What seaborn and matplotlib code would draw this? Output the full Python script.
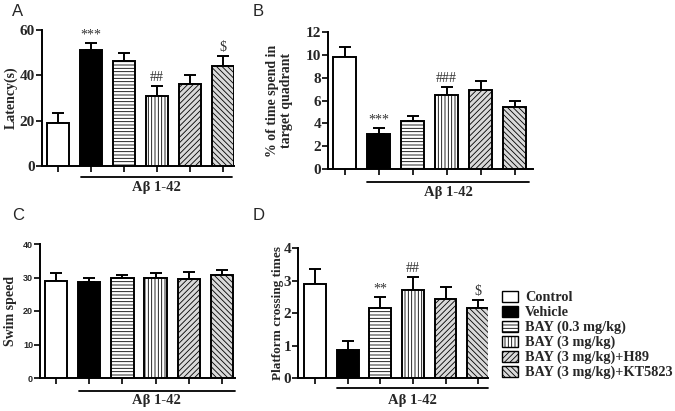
import numpy as np
import pandas as pd
import matplotlib
matplotlib.use("Agg")
import matplotlib.pyplot as plt
import matplotlib.transforms as mtransforms
from matplotlib.patches import Patch
import seaborn as sns

groups = ["Control", "Vehicle", "BAY (0.3 mg/kg)", "BAY (3 mg/kg)",
          "BAY (3 mg/kg)+H89", "BAY (3 mg/kg)+KT5823"]

latency = [18.8, 51.2, 46.3, 31.0, 36.0, 44.3]
latency_err = [4.5, 3.0, 3.4, 4.2, 4.2, 4.3]
latency_marks = ["", "***", "", "##", "", r"\$"]

time_quad = [9.77, 3.07, 4.24, 6.5, 6.93, 5.4]
time_quad_err = [0.95, 0.5, 0.36, 0.7, 0.77, 0.6]
time_quad_marks = ["", "***", "", "###", "", ""]

swim = [29.0, 28.8, 29.8, 29.8, 29.6, 30.6]
swim_err = [2.3, 1.2, 1.0, 1.5, 1.9, 1.5]
swim_marks = ["", "", "", "", "", ""]

crossing = [2.88, 0.87, 2.15, 2.71, 2.44, 2.15]
crossing_err = [0.48, 0.26, 0.34, 0.41, 0.36, 0.26]
crossing_marks = ["", "", "**", "##", "", r"\$"]

colors = ["white", "black", "white", "white", "#d9d9d9", "#d9d9d9"]
hatches = [None, None, "-----", "|||||", "//////", "\\\\\\\\\\\\"]

sns.set_style("white")
plt.rcParams["hatch.linewidth"] = 0.6
SERIF = ["Liberation Serif", "DejaVu Serif"]
SANS = ["Liberation Sans", "DejaVu Sans"]

fig = plt.figure(figsize=(6.75, 4.11), dpi=100)
W, H = 675, 411


def add_ax(l, r, t, b):
    return fig.add_axes([l / W, 1 - b / H, (r - l) / W, (b - t) / H])


def panel(ax, vals, errs, marks, ylim, yticks, ylabel, xlim, labx,
          line_x, line_y, text_y, tick_font=None, ylab_size=10):
    df = pd.DataFrame({"group": groups, "value": vals})
    sns.barplot(data=df, x="group", y="value", order=groups, hue="group",
                palette=colors, legend=False, errorbar=None, width=0.67,
                ax=ax, zorder=3)
    for p, c, h in zip(ax.patches, colors, hatches):
        p.set_facecolor(c)
        p.set_edgecolor("black")
        p.set_linewidth(1.4)
        if h:
            p.set_hatch(h)
    x = np.arange(len(vals))
    ax.errorbar(x, vals, yerr=[np.zeros(len(vals)), errs], fmt="none",
                ecolor="black", elinewidth=1.4, capsize=4, capthick=1.4,
                zorder=2)
    span = ylim[1] - ylim[0]
    for xi, v, e, m in zip(x, vals, errs, marks):
        if m:
            ax.text(xi, v + e + span * 0.015, m, ha="center", va="bottom",
                    fontsize=10, family=SERIF, color="#333333")
    ax.set_ylim(*ylim)
    ax.set_xlim(*xlim)
    ax.set_yticks(yticks)
    ax.set_xticks(x)
    ax.set_xticklabels([])
    ax.set_xlabel("")
    ax.set_ylabel(ylabel, fontsize=ylab_size, fontweight="bold", family=SERIF,
                  linespacing=1.1)
    ax.yaxis.label.set_va("center")
    ax.yaxis.set_label_coords(labx, 0.5)
    for s in ["top", "right"]:
        ax.spines[s].set_visible(False)
    for s in ["left", "bottom"]:
        ax.spines[s].set_linewidth(1.4)
        ax.spines[s].set_color("black")
    ax.tick_params(axis="both", direction="out", length=4, width=1.2, pad=1,
                   left=True, bottom=True, color="black")
    if tick_font is None:
        for t in ax.get_yticklabels():
            t.set_fontfamily(SERIF)
            t.set_fontweight("bold")
            t.set_fontsize(11)
    else:
        for t in ax.get_yticklabels():
            t.set_fontfamily(SANS)
            t.set_fontweight("bold")
            t.set_fontsize(tick_font)
    trans = mtransforms.blended_transform_factory(ax.transData, ax.transAxes)
    ax.plot(line_x, [line_y, line_y], color="black", lw=1.3,
            transform=trans, clip_on=False)
    ax.text(np.mean(line_x), text_y, "A\u03b2 1-42", transform=trans,
            ha="center", va="center", fontsize=10.5, fontweight="bold",
            family=SERIF)


axA = add_ax(42, 234, 30, 166)
panel(axA, latency, latency_err, latency_marks, (0, 60), [0, 20, 40, 60],
      "Latency(s)", (-0.5, 5.35), -0.162, [0.7, 5.3], -0.08, -0.155)

axB = add_ax(328, 533, 32, 169)
panel(axB, time_quad, time_quad_err, time_quad_marks, (0, 12),
      [0, 2, 4, 6, 8, 10, 12], "% of time spend in\ntarget quadrant",
      (-0.49, 5.54), -0.235, [0.66, 5.43], -0.095, -0.175)

axC = add_ax(40, 235, 244, 378)
panel(axC, swim, swim_err, swim_marks, (0, 40), [0, 10, 20, 30, 40],
      "Swim speed", (-0.48, 5.39), -0.15, [0.69, 5.39], -0.097, -0.17,
      tick_font=6.5)

axD = add_ax(298, 488, 248, 378)
panel(axD, crossing, crossing_err, crossing_marks, (0, 4), [0, 1, 2, 3, 4],
      "Platform crossing times", (-0.52, 5.3), -0.105, [0.68, 5.3], -0.077,
      -0.175, ylab_size=9.5)

for lab, (px, py) in zip("ABCD", [(12, 12), (253, 12), (12, 215), (253, 215)]):
    fig.text(px / W, 1 - py / H, lab, fontsize=12, family=SANS,
             ha="left", va="center")

handles = [Patch(facecolor=c, edgecolor="black", hatch=h, linewidth=1.0)
           for c, h in zip(colors, hatches)]
leg = fig.legend(handles, groups, loc="upper left",
                 bbox_to_anchor=(502 / W, 1 - 291 / H), frameon=False,
                 prop={"family": SERIF, "weight": "bold", "size": 10.3},
                 handlelength=1.1, handleheight=0.8, labelspacing=0.1,
                 handletextpad=0.5, borderaxespad=0, borderpad=0)

fig.savefig("out.png", dpi=100)
